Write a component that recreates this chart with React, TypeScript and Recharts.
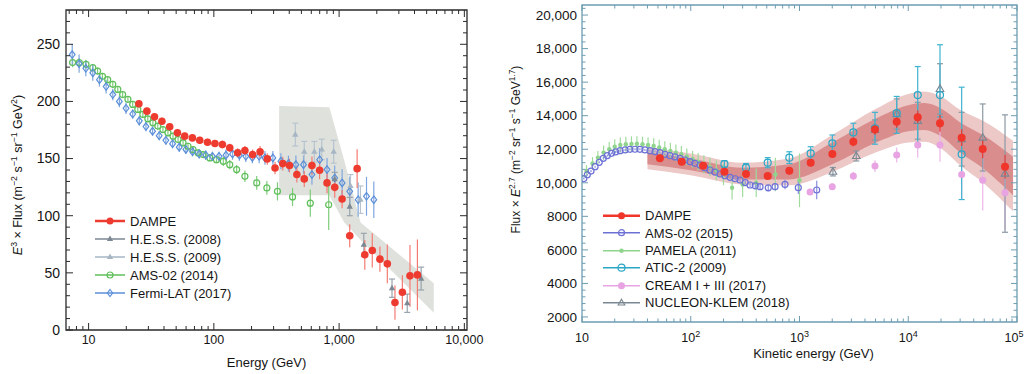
import React from 'react';
import { ComposedChart, Scatter, Area, XAxis, YAxis, ErrorBar, ReferenceArea, Legend, Label } from 'recharts';

const FONT = '"Liberation Sans", Arial, Helvetica, sans-serif';

// ================= LEFT PANEL DATA (E^3 x Flux) =================
const leftDampeE = [25.2, 29.2, 33.6, 38.5, 44.4, 51.2, 58.5, 67.4, 77.2, 89, 102, 117, 134, 155, 177, 204, 234, 267, 308, 355, 402, 460, 527, 607, 699, 801, 923, 1057, 1216, 1393, 1604, 1840, 2118, 2427, 2793, 3200, 3681, 4220];
const leftDampeF = [198, 191.5, 186.5, 182.7, 177.8, 172.5, 169.6, 168.1, 166, 164.3, 163.2, 162.3, 159.4, 155, 157, 153.5, 155.9, 149.7, 141.8, 145.6, 143.9, 136, 132.2, 143.9, 139.8, 128.7, 124.8, 114.6, 82.5, 141.2, 65.8, 69.6, 62, 57.9, 24, 33, 47.4, 48.2];
const leftDampeErr = [3, 3, 3, 3, 3, 3, 3, 3, 3, 3, 3, 3.5, 3.5, 4, 4, 4.5, 5, 5, 5.5, 6, 6, 7, 7, 8, 8, 9, 9, 8, 10, 17, 13, 15, 11, 17, 15, 15, 27, 31];

const leftHess08E = [922, 1216, 1575, 2645, 3500, 4520];
const leftHess08F = [132, 108, 74.6, 36.6, 23.4, 45];
const leftHess08Err = [6, 8, 10, 8, 8, 10];

const leftHess09E = [447, 527, 634, 727, 905, 1233, 1480];
const leftHess09F = [171, 156, 156, 158, 156, 126, 114];
const leftHess09Err = [10, 9, 9, 9, 10, 10, 12];

const leftAmsE = [7.45, 8.42, 9.53, 10.8, 11.8, 12.9, 14.2, 15.6, 17.1, 18.7, 20.6, 22.5, 24.7, 27.1, 29.7, 32.6, 35.7, 39.2, 43, 47.2, 51.8, 56.8, 62.2, 68.2, 74.8, 82, 92.9, 105, 119, 134, 152, 177, 220, 265, 322, 425, 589, 826];
const leftAmsF = [234, 234, 232.5, 229.5, 226.6, 222, 219, 215, 210.5, 206, 201.8, 197.4, 193, 188.6, 184.8, 181.3, 178.4, 175.4, 172.5, 169.6, 166.7, 163.8, 160.8, 157.9, 155, 153.5, 150.6, 149, 147.6, 144.7, 140.4, 134.5, 128.7, 124.3, 121.3, 116.4, 111, 109.6];
const leftAmsErr = [4, 4, 4, 3, 3, 3, 3, 3, 3, 3, 3, 3, 3, 3, 3, 3, 3, 3, 3, 3, 3, 3, 3, 3, 3, 3, 3, 3, 4, 4, 4, 5, 6, 6, 8, 8, 12, 22];

const leftFermiE = [7.4, 8.4, 9.5, 10.8, 12.2, 13.8, 15.6, 17.6, 19.9, 22.5, 25.4, 28.7, 32.4, 36.6, 41.4, 46.8, 52.9, 59.8, 67.6, 76.4, 86.3, 97.5, 110, 125, 141, 160, 180, 203, 230, 256, 296, 343, 394, 452, 520, 607, 699, 801, 922, 1057, 1216, 1419, 1655, 1893];
const leftFermiF = [241, 233, 229, 225, 219, 213, 206, 200, 194, 189, 183, 178, 174, 170, 166, 163, 160, 158, 156, 154, 153, 152, 152, 153, 154, 153, 152, 151, 152, 150.6, 150.6, 147.6, 145.6, 144.7, 144.7, 136, 149, 140.4, 133, 128.7, 121.3, 114, 117, 114];
const leftFermiErr = [9, 8, 7, 7, 6, 6, 5, 5, 5, 4, 4, 4, 4, 4, 4, 4, 4, 4, 4, 4, 4, 4, 4, 5, 5, 5, 5, 5, 6, 6, 6, 7, 7, 8, 8, 9, 10, 10, 11, 12, 13, 15, 17, 16];

// H.E.S.S. systematic band
const leftBandE = [332, 836, 1100, 1483, 5700];
const leftBandLo = [118, 118, 94, 79, 15];
const leftBandHi = [196, 195, 148, 94, 41];

// axis ticks (left)
const leftXMajor = [10, 100, 1000, 10000];
const leftXLabels = ['10', '100', '1,000', '10,000'];
const leftXMinorMult = [2, 3, 4, 5, 6, 7, 8, 9];
const leftYMajor = [0, 50, 100, 150, 200, 250];
const leftYLabels = ['0', '50', '100', '150', '200', '250'];

// ================= RIGHT PANEL DATA (Flux x E^2.7) =================
const rDampeE = [52, 82.6, 130, 204, 322, 510, 806, 1267, 2005, 3126, 4945, 7833, 12220, 19580, 30990, 48400, 77600];
const rDampeF = [11459, 11257, 11018, 10661, 10524, 10404, 10720, 11197, 11716, 12449, 13184, 13641, 13903, 13545, 12687, 12014, 10959];
const rDampeErr = [120, 120, 120, 130, 140, 150, 170, 200, 230, 270, 320, 360, 400, 500, 500, 550, 700];

const rAmsE = [10.4, 11.2, 12.1, 13.2, 14.4, 15.7, 17.1, 18.7, 20.4, 22.4, 24.9, 27.6, 30.7, 34.1, 37.9, 42.2, 46.9, 52.1, 57.9, 64.4, 71.6, 79.6, 88.5, 98.4, 109, 122, 135, 150, 167, 186, 206, 230, 256, 284, 317, 351, 392, 434, 516, 596, 736, 975, 1440];
const rAmsF = [10250, 10480, 10700, 10960, 11220, 11457, 11620, 11755, 11840, 11914, 11960, 11993, 12000, 11993, 11960, 11914, 11860, 11795, 11700, 11616, 11540, 11457, 11360, 11258, 11160, 11059, 10900, 10762, 10640, 10523, 10420, 10324, 10240, 10165, 10010, 9867, 9820, 9768, 9700, 9770, 9900, 9710, 9570];
const rAmsErr = [60, 60, 60, 60, 60, 60, 60, 60, 60, 60, 60, 60, 60, 60, 60, 60, 60, 60, 60, 60, 60, 60, 60, 60, 60, 60, 60, 60, 60, 60, 70, 80, 90, 100, 110, 120, 130, 140, 200, 220, 280, 380, 550];

const rPamE = [11, 12.5, 14, 15.8, 17.8, 20, 22.5, 25.3, 28.5, 32, 36, 40.5, 45.6, 51.3, 57.7, 65, 73, 82, 92, 104, 117, 132, 150, 172, 200, 240, 300, 400, 600, 1000];
const rPamF = [10700, 11150, 11500, 11800, 12000, 12150, 12250, 12300, 12320, 12330, 12300, 12250, 12200, 12100, 12000, 11900, 11800, 11700, 11550, 11400, 11250, 11100, 10950, 10750, 10500, 9700, 9900, 10000, 10500, 10150];
const rPamErr = [350, 380, 400, 420, 430, 440, 450, 450, 450, 450, 450, 450, 460, 460, 470, 480, 480, 490, 500, 500, 520, 540, 560, 600, 650, 700, 750, 850, 1000, 1600];

const rAticE = [204, 322, 510, 806, 1267, 2005, 3126, 4945, 7833, 12220, 19580, 30990];
const rAticF = [11120, 10900, 11200, 11500, 11750, 12350, 13000, 13250, 14150, 15230, 15230, 11700];
const rAticLo = [200, 250, 300, 350, 400, 500, 500, 950, 1200, 2900, 1300, 2700];
const rAticHi = [200, 250, 300, 350, 400, 500, 550, 950, 1000, 1700, 3000, 4000];

const rCreamE = [1250, 2000, 3126, 4945, 7833, 12220, 19580, 30990, 48400, 77600];
const rCreamF = [9450, 9770, 10400, 11000, 11660, 12250, 12250, 10500, 10150, 9400];
const rCreamErr = [150, 200, 250, 350, 450, 750, 1000, 1500, 1800, 2200];

const rNucE = [2030, 3330, 4945, 7833, 12220, 19580, 30990, 48400, 77600];
const rNucF = [10660, 11600, 13150, 14100, 13700, 15600, 12600, 12700, 10550];
const rNucErr = [250, 300, 600, 900, 1100, 1500, 1600, 2000, 3500];

// DAMPE fitted band (outer light, inner dark)
const rBandE = [40, 100, 300, 800, 2000, 5000, 10000, 14000, 20000, 30000, 50000, 92000];
const rOuterLo = [10800, 10450, 9900, 9850, 10650, 11800, 12400, 12450, 12050, 11050, 9950, 8300];
const rOuterHi = [12100, 11750, 11200, 11450, 12850, 14400, 15300, 15450, 15150, 14350, 13650, 12500];
const rInnerLo = [11100, 10750, 10200, 10200, 11100, 12380, 13070, 13150, 12770, 11800, 10800, 9250];
const rInnerHi = [11800, 11450, 10900, 11100, 12400, 13820, 14630, 14750, 14430, 13600, 12800, 11550];

const rXMajor = [10, 100, 1000, 10000, 100000];
const rXLabelBase = ['10', '10', '10', '10', '10'];
const rXLabelExp = ['', '2', '3', '4', '5'];
const rYMajor = [2000, 4000, 6000, 8000, 10000, 12000, 14000, 16000, 18000, 20000];
const rYLabels = ['2000', '4000', '6000', '8000', '10,000', '12,000', '14,000', '16,000', '18,000', '20,000'];

// ================= helpers =================
const zip = (xs: number[], ys: number[], es: any[]) => xs.map((x, i) => ({ x, y: ys[i], err: es[i] }));
const logTicks = (majors: number[], mult: number[], lo: number, hi: number) => {
  const out: number[] = [];
  majors.forEach((m) => {
    out.push(m);
    mult.forEach((k) => out.push((m / 10) * k));
  });
  return Array.from(new Set(out)).filter((v) => v >= lo && v <= hi).sort((a, b) => a - b);
};
const stepTicks = (lo: number, hi: number, step: number) => {
  const out: number[] = [];
  for (let v = lo; v <= hi; v += step) out.push(v);
  return out;
};

type Kind = 'dot' | 'ocircle' | 'odiamond' | 'triangle' | 'otriangle' | 'osquare';
function renderMarker(kind: Kind, cx: number, cy: number, color: string, s: number) {
  if (cx == null || cy == null || isNaN(cx) || isNaN(cy)) return <g />;
  switch (kind) {
    case 'dot':
      return <circle cx={cx} cy={cy} r={s} fill={color} />;
    case 'ocircle':
      return <circle cx={cx} cy={cy} r={s} fill="none" stroke={color} strokeWidth={1.2} />;
    case 'osquare':
      return <rect x={cx - s} y={cy - s} width={2 * s} height={2 * s} fill="none" stroke={color} strokeWidth={1.2} />;
    case 'odiamond':
      return (
        <polygon
          points={`${cx},${cy - s} ${cx + s * 0.75},${cy} ${cx},${cy + s} ${cx - s * 0.75},${cy}`}
          fill="none"
          stroke={color}
          strokeWidth={1.2}
        />
      );
    case 'triangle':
      return <polygon points={`${cx},${cy - s} ${cx + s * 0.9},${cy + s * 0.6} ${cx - s * 0.9},${cy + s * 0.6}`} fill={color} />;
    case 'otriangle':
      return (
        <polygon
          points={`${cx},${cy - s} ${cx + s * 0.95},${cy + s * 0.65} ${cx - s * 0.95},${cy + s * 0.65}`}
          fill="none"
          stroke={color}
          strokeWidth={1.1}
        />
      );
  }
  return <g />;
}

type Series = { name: string; data: any[]; color: string; barColor: string; kind: Kind; size: number; cap: number; legendLine: number };

// ================= series config =================
const leftSeries: Series[] = [
  { name: 'DAMPE', data: zip(leftDampeE, leftDampeF, leftDampeErr), color: '#ee3b30', barColor: '#f47b72', kind: 'dot', size: 3.8, cap: 0, legendLine: 2.5 },
  { name: 'H.E.S.S. (2008)', data: zip(leftHess08E, leftHess08F, leftHess08Err), color: '#7c8893', barColor: '#98a3ad', kind: 'triangle', size: 3.5, cap: 3, legendLine: 1.5 },
  { name: 'H.E.S.S. (2009)', data: zip(leftHess09E, leftHess09F, leftHess09Err), color: '#a6b6c4', barColor: '#b6c3cf', kind: 'triangle', size: 3.5, cap: 3, legendLine: 1.5 },
  { name: 'AMS-02 (2014)', data: zip(leftAmsE, leftAmsF, leftAmsErr), color: '#5ebf5a', barColor: '#7fcd7b', kind: 'ocircle', size: 3, cap: 0, legendLine: 1.5 },
  { name: 'Fermi-LAT (2017)', data: zip(leftFermiE, leftFermiF, leftFermiErr), color: '#5b8fd8', barColor: '#7ea6e0', kind: 'odiamond', size: 3.8, cap: 0, legendLine: 1.5 },
];
const leftDrawOrder = [3, 4, 2, 1, 0];

const rightSeries: Series[] = [
  { name: 'DAMPE', data: zip(rDampeE, rDampeF, rDampeErr), color: '#f0352b', barColor: '#f0352b', kind: 'dot', size: 4, cap: 0, legendLine: 2.5 },
  { name: 'AMS-02 (2015)', data: zip(rAmsE, rAmsF, rAmsErr), color: '#6d71d6', barColor: '#8a8ee0', kind: 'ocircle', size: 3, cap: 0, legendLine: 1.5 },
  { name: 'PAMELA (2011)', data: zip(rPamE, rPamF, rPamErr), color: '#8fd48c', barColor: '#9fdc9c', kind: 'dot', size: 2.2, cap: 0, legendLine: 1.5 },
  { name: 'ATIC-2 (2009)', data: rAticE.map((x, i) => ({ x, y: rAticF[i], err: [rAticLo[i], rAticHi[i]] })), color: '#2aa6c6', barColor: '#3fb3d0', kind: 'ocircle', size: 3.5, cap: 3, legendLine: 1.5 },
  { name: 'CREAM I + III (2017)', data: zip(rCreamE, rCreamF, rCreamErr), color: '#e7a3e2', barColor: '#ecb6e8', kind: 'dot', size: 3.5, cap: 0, legendLine: 1.5 },
  { name: 'NUCLEON-KLEM (2018)', data: zip(rNucE, rNucF, rNucErr), color: '#7a8893', barColor: '#8c99a3', kind: 'otriangle', size: 4, cap: 3, legendLine: 1.5 },
];
const rightDrawOrder = [2, 1, 4, 5, 3, 0];

const leftBandData = leftBandE.map((x, i) => ({ x, range: [leftBandLo[i], leftBandHi[i]] }));
const rightBandData = rBandE.map((x, i) => ({ x, outer: [rOuterLo[i], rOuterHi[i]], inner: [rInnerLo[i], rInnerHi[i]] }));

// ================= geometry =================
const LG = { w: 500, h: 374, top: 10, right: 33, yW: 66, xH: 44 };
const LPL = LG.yW, LPR = LG.w - LG.right, LPT = LG.top, LPB = LG.h - LG.xH;
const RG = { w: 524, h: 374, top: 5, right: 7, yW: 82, xH: 52 };
const RPL = RG.yW, RPR = RG.w - RG.right, RPT = RG.top, RPB = RG.h - RG.xH;

const leftXDomain = [6.6, 10500];
const leftYDomain = [0, 280];
const rightXDomain = [10, 100000];
const rightYDomain = [1700, 20600];

const leftXTicks = logTicks([10, 100, 1000, 10000], leftXMinorMult, leftXDomain[0], leftXDomain[1]);
const leftYTicks = stepTicks(0, 270, 10);
const rightXTicks = logTicks(rXMajor, leftXMinorMult, rightXDomain[0], rightXDomain[1]);
const rightYTicks = stepTicks(2000, 20400, 400);

// ================= tick renderers =================
const makeXTick = (major: number[], label: (i: number) => React.ReactNode, axisY: number, topY: number, color: string, majorLen: number, minorLen: number, labelOff: number, fs: number, lastShift = 0) =>
  (props: any) => {
    const { x, payload } = props;
    const i = major.indexOf(payload.value);
    const len = i >= 0 ? majorLen : minorLen;
    const lx = i === major.length - 1 ? x + lastShift : x;
    return (
      <g>
        <line x1={x} x2={x} y1={axisY} y2={axisY - len} stroke={color} strokeWidth={1} />
        <line x1={x} x2={x} y1={topY} y2={topY + len} stroke={color} strokeWidth={1} />
        {i >= 0 && (
          <text x={lx} y={axisY + labelOff} dy="0.35em" textAnchor="middle" fontFamily={FONT} fontSize={fs} fill="#151515">
            {label(i)}
          </text>
        )}
      </g>
    );
  };

const makeYTick = (major: number[], labels: string[], axisX: number, rightX: number, color: string, majorLen: number, minorLen: number, labelOff: number, fs: number) =>
  (props: any) => {
    const { y, payload } = props;
    const i = major.indexOf(payload.value);
    const len = i >= 0 ? majorLen : minorLen;
    return (
      <g>
        <line x1={axisX} x2={axisX + len} y1={y} y2={y} stroke={color} strokeWidth={1} />
        <line x1={rightX} x2={rightX - len} y1={y} y2={y} stroke={color} strokeWidth={1} />
        {i >= 0 && (
          <text x={axisX - labelOff} y={y} dy="0.35em" textAnchor="end" fontFamily={FONT} fontSize={fs} fill="#151515">
            {labels[i]}
          </text>
        )}
      </g>
    );
  };

// ================= rich text for axis titles =================
type Seg = { t: string; sup?: boolean; it?: boolean };
const leftYTitle: Seg[] = [
  { t: 'E', it: true }, { t: '3', sup: true }, { t: ' × Flux (m' }, { t: '−2', sup: true }, { t: ' s' }, { t: '−1', sup: true },
  { t: ' sr' }, { t: '−1', sup: true }, { t: ' GeV' }, { t: '2', sup: true }, { t: ')' },
];
const rightYTitle: Seg[] = [
  { t: 'Flux × ' }, { t: 'E', it: true }, { t: '2.7', sup: true }, { t: ' (m' }, { t: '−2', sup: true }, { t: ' sr' }, { t: '−1', sup: true },
  { t: ' s' }, { t: '−1', sup: true }, { t: ' GeV' }, { t: '1.7', sup: true }, { t: ')' },
];

function RichText({ segs, x, y, fs, rotate }: { segs: Seg[]; x: number; y: number; fs: number; rotate?: boolean }) {
  let prev = false;
  const shift = fs * 0.4;
  return (
    <text x={x} y={y} transform={rotate ? `rotate(-90 ${x} ${y})` : undefined} textAnchor="middle" fontFamily={FONT} fontSize={fs} fill="#151515">
      {segs.map((s, i) => {
        const sup = !!s.sup;
        const dy = sup && !prev ? -shift : !sup && prev ? shift : 0;
        prev = sup;
        return (
          <tspan key={i} dy={dy} fontSize={sup ? fs * 0.7 : fs} fontStyle={s.it ? 'italic' : undefined}>
            {s.t}
          </tspan>
        );
      })}
    </text>
  );
}

// ================= legend =================
function LegendBox({ items, lineW, rowH, gap, fs }: { items: Series[]; lineW: number; rowH: number; gap: number; fs: number }) {
  return (
    <div style={{ fontFamily: FONT, fontSize: fs, color: '#151515' }}>
      {items.map((s) => (
        <div key={s.name} style={{ display: 'flex', alignItems: 'center', height: rowH }}>
          <svg width={lineW} height={rowH} style={{ display: 'block', flex: 'none' }}>
            <line x1={0} x2={lineW} y1={rowH / 2} y2={rowH / 2} stroke={s.color} strokeWidth={s.legendLine} />
            {renderMarker(s.kind, lineW / 2, rowH / 2, s.color, Math.min(s.size, 3.5))}
          </svg>
          <span style={{ marginLeft: gap, whiteSpace: 'nowrap', lineHeight: 1 }}>{s.name}</span>
        </div>
      ))}
    </div>
  );
}

function renderSeries(s: Series) {
  return (
    <Scatter
      key={s.name}
      name={s.name}
      data={s.data}
      dataKey="y"
      isAnimationActive={false}
      shape={(p: any) => renderMarker(s.kind, p.cx, p.cy, s.color, s.size)}
    >
      <ErrorBar dataKey="err" direction="y" width={s.cap} stroke={s.barColor} strokeWidth={1.2} isAnimationActive={false} />
    </Scatter>
  );
}

function LeftPanel() {
  const frame = '#2a2a2a';
  return (
    <ComposedChart width={LG.w} height={LG.h} data={leftBandData} margin={{ top: LG.top, right: LG.right, bottom: 0, left: 0 }}>
      <XAxis
        dataKey="x"
        type="number"
        scale="log"
        domain={leftXDomain}
        allowDataOverflow
        ticks={leftXTicks}
        interval={0}
        height={LG.xH}
        axisLine={false}
        tickLine={false}
        tickSize={0}
        tick={makeXTick(leftXMajor, (i) => leftXLabels[i], LPB, LPT, frame, 7, 4, 10, 12.5)}
      >
        <Label content={() => <RichText segs={[{ t: 'Energy (GeV)' }]} x={(LPL + LPR) / 2} y={LPB + 37} fs={13} />} />
      </XAxis>
      <YAxis
        type="number"
        domain={leftYDomain}
        allowDataOverflow
        ticks={leftYTicks}
        interval={0}
        width={LG.yW}
        axisLine={false}
        tickLine={false}
        tickSize={0}
        tick={makeYTick(leftYMajor, leftYLabels, LPL, LPR, frame, 7, 4, 6, 14)}
      >
        <Label content={() => <RichText segs={leftYTitle} x={22} y={(LPT + LPB) / 2 + 5} fs={12.5} rotate />} />
      </YAxis>
      <Area type="linear" dataKey="range" stroke="none" fill="#dfe2dc" fillOpacity={1} isAnimationActive={false} dot={false} activeDot={false} />
      {leftDrawOrder.map((i) => renderSeries(leftSeries[i]))}
      <ReferenceArea x1={leftXDomain[0]} x2={leftXDomain[1]} y1={leftYDomain[0]} y2={leftYDomain[1]} fill="none" stroke={frame} strokeWidth={1.3} ifOverflow="visible" />
      <Legend
        layout="vertical"
        verticalAlign="middle"
        align="center"
        wrapperStyle={{ left: 95, top: 212, width: 220 }}
        content={() => <LegendBox items={leftSeries} lineW={30} rowH={18} gap={5} fs={13} />}
      />
    </ComposedChart>
  );
}

function RightPanel() {
  const frame = '#6d9db2';
  return (
    <ComposedChart width={RG.w} height={RG.h} data={rightBandData} margin={{ top: RG.top, right: RG.right, bottom: 0, left: 0 }}>
      <XAxis
        dataKey="x"
        type="number"
        scale="log"
        domain={rightXDomain}
        allowDataOverflow
        ticks={rightXTicks}
        interval={0}
        height={RG.xH}
        axisLine={false}
        tickLine={false}
        tickSize={0}
        tick={makeXTick(
          rXMajor,
          (i) => (
            <>
              {rXLabelBase[i]}
              {rXLabelExp[i] && (
                <tspan dy={-5} fontSize={9}>
                  {rXLabelExp[i]}
                </tspan>
              )}
            </>
          ),
          RPB,
          RPT,
          frame,
          6,
          3.5,
          16,
          12.5,
          -3
        )}
      >
        <Label content={() => <RichText segs={[{ t: 'Kinetic energy (GeV)' }]} x={(RPL + RPR) / 2 + 14} y={RPB + 36} fs={13} />} />
      </XAxis>
      <YAxis
        type="number"
        domain={rightYDomain}
        allowDataOverflow
        ticks={rightYTicks}
        interval={0}
        width={RG.yW}
        axisLine={false}
        tickLine={false}
        tickSize={0}
        tick={makeYTick(rYMajor, rYLabels, RPL, RPR, frame, 6, 3.5, 5, 13.5)}
      >
        <Label content={() => <RichText segs={rightYTitle} x={20} y={(RPT + RPB) / 2 - 14} fs={12} rotate />} />
      </YAxis>
      <Area type="monotone" dataKey="outer" stroke="none" fill="#ecc8c7" fillOpacity={1} isAnimationActive={false} dot={false} activeDot={false} />
      <Area type="monotone" dataKey="inner" stroke="none" fill="#d98d8d" fillOpacity={1} isAnimationActive={false} dot={false} activeDot={false} />
      {rightDrawOrder.map((i) => renderSeries(rightSeries[i]))}
      <ReferenceArea x1={rightXDomain[0]} x2={rightXDomain[1]} y1={rightYDomain[0]} y2={rightYDomain[1]} fill="none" stroke={frame} strokeWidth={1.3} ifOverflow="visible" />
      <Legend
        layout="vertical"
        verticalAlign="middle"
        align="center"
        wrapperStyle={{ left: 103, top: 207, width: 240 }}
        content={() => <LegendBox items={rightSeries} lineW={37} rowH={17.4} gap={5} fs={13} />}
      />
    </ComposedChart>
  );
}

export default function App() {
  return (
    <div style={{ position: 'absolute', left: 0, top: 0, width: 1024, height: 374, background: '#fff', overflow: 'hidden' }}>
      <div style={{ position: 'absolute', left: 0, top: 0 }}>
        <LeftPanel />
      </div>
      <div style={{ position: 'absolute', left: 500, top: 0 }}>
        <RightPanel />
      </div>
    </div>
  );
}
